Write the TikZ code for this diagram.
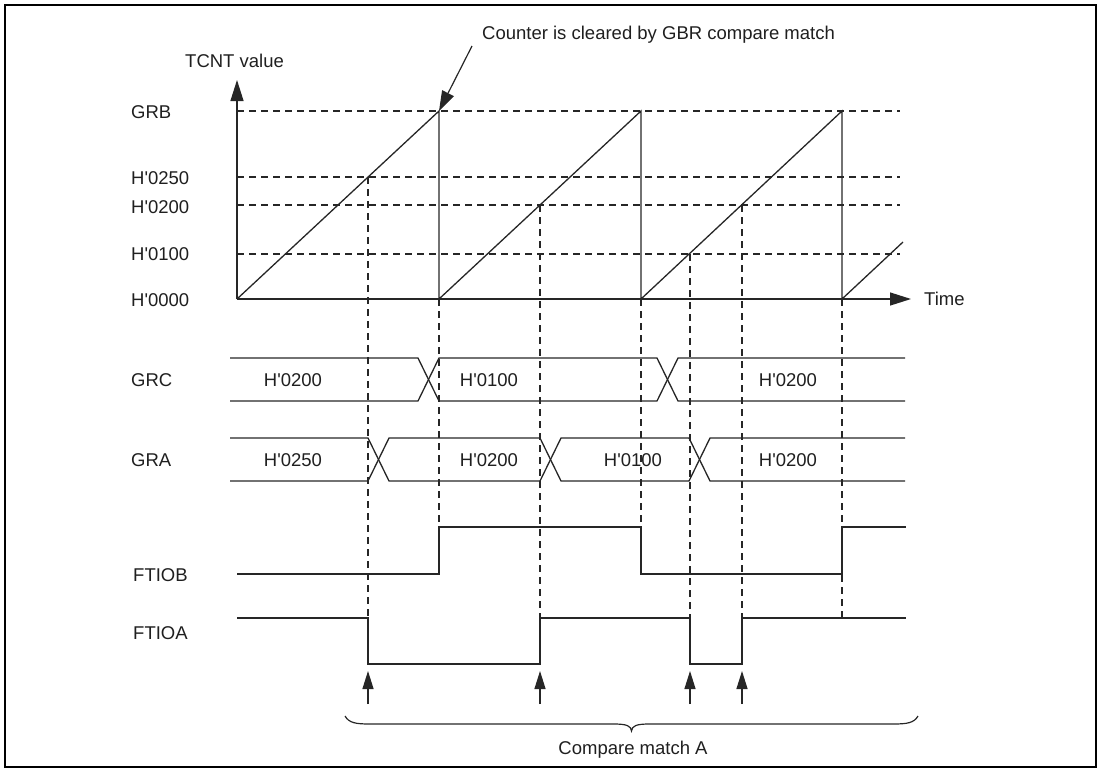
\documentclass[tikz,border=0pt]{standalone}
\usepackage{fontspec}
\setmainfont{Liberation Sans}
\usetikzlibrary{arrows.meta}
\newcommand\hq{\textquotesingle}
\begin{document}
\begin{tikzpicture}[x=1pt,y=-1pt,
  every node/.style={font=\fontsize{18.5}{22}\selectfont, inner sep=0pt, text depth=0pt, text=black!88},
  lbl/.style={anchor=west},
  sig/.style={line width=1.3pt, draw=black!85},
  dline/.style={line width=1.1pt, draw=black!85, dash pattern=on 7pt off 5pt},
  bigarrow/.style={line width=1.3pt, draw=black!85, -{Triangle[length=21pt,width=13pt]}},
  smallarrow/.style={line width=1.3pt, draw=black!85, -{Triangle[length=18pt,width=11pt]}}]
\useasboundingbox (0,0) rectangle (1102,772);
\draw[line width=2.5pt] (5,5) rectangle (1096,767);

% ---- axes
\coordinate (O) at (237,299);
\coordinate (Ytip) at (237,80);
\coordinate (Xtip) at (911,299);
\draw[bigarrow] (O) -- (Ytip);
\draw[bigarrow] (O) -- (Xtip);
\node[lbl] (tcnt) at (185,61) {TCNT value};
\node[lbl] (time) at (924,299) {Time};

% ---- level labels
\node[lbl] (grb) at (131,112) {GRB};
\node[lbl] (l250) at (131,178) {H\hq0250};
\node[lbl] (l200) at (131,207) {H\hq0200};
\node[lbl] (l100) at (131,254) {H\hq0100};
\node[lbl] (l000) at (131,300) {H\hq0000};

% ---- horizontal dashed levels
\draw[dline] (237,111) -- (900,111);
\draw[dline] (237,177) -- (900,177);
\draw[dline] (237,205) -- (900,205);
\draw[dline] (237,254) -- (900,254);

% ---- sawtooth
\draw[sig] (237,299) -- (439,111) -- (439,299)
           (439,299) -- (641,111) -- (641,299)
           (641,299) -- (842,111) -- (842,299)
           (842,299) -- (903,242);

% ---- vertical dashed guides
\draw[dline] (368,177) -- (368,617);
\draw[dline] (439,299) -- (439,527);
\draw[dline] (540,205) -- (540,617);
\draw[dline] (641,299) -- (641,527);
\draw[dline] (690,254) -- (690,617);
\draw[dline] (742,205) -- (742,617);
\draw[dline] (842,299) -- (842,617);

% ---- annotation
\node[lbl] (note) at (482,33) {Counter is cleared by GBR compare match};
\coordinate (noteStart) at (472,46);
\coordinate (clear) at (439,111);
\draw[line width=1.2pt, draw=black!85, -{Triangle[length=20pt,width=13pt]}] (noteStart) -- (clear);

% ---- GRC bus
\node[lbl] (grc) at (131,380) {GRC};
\draw[sig] (230,358) -- (418,358) -- (439,401) -- (657,401) -- (678,358) -- (905,358);
\draw[sig] (230,401) -- (418,401) -- (439,358) -- (657,358) -- (678,401) -- (905,401);
\node (c1) at (293,380) {H\hq0200};
\node (c2) at (489,380) {H\hq0100};
\node (c3) at (788,380) {H\hq0200};

% ---- GRA bus
\node[lbl] (gra) at (131,460) {GRA};
\draw[sig] (230,438) -- (368,438) -- (389,481) -- (540,481) -- (561,438) -- (689,438) -- (710,481) -- (905,481);
\draw[sig] (230,481) -- (368,481) -- (389,438) -- (540,438) -- (561,481) -- (689,481) -- (710,438) -- (905,438);
\node (a1) at (293,460) {H\hq0250};
\node (a2) at (489,460) {H\hq0200};
\node (a3) at (633,460) {H\hq0100};
\node (a4) at (788,460) {H\hq0200};

% ---- FTIOB
\node[lbl] (ftiob) at (133,575) {FTIOB};
\draw[sig] (237,574) -- (439,574) -- (439,527) -- (641,527) -- (641,574) -- (842,574) -- (842,527) -- (906,527);

% ---- FTIOA
\node[lbl] (ftioa) at (133,633) {FTIOA};
\draw[sig] (237,618) -- (368,618) -- (368,664) -- (540,664) -- (540,618) -- (690,618) -- (690,664) -- (742,664) -- (742,618) -- (906,618);

% ---- compare match arrows
\foreach \x/\n in {368/m1,540/m2,690/m3,742/m4}{
  \coordinate (\n b) at (\x,704);
  \coordinate (\n t) at (\x,671);
  \draw[smallarrow] (\n b) -- (\n t);
}

% ---- brace
\draw[line width=1.2pt, draw=black!85] (345,716) .. controls (349,723) and (356,724) .. (370,724) -- (614,724)
  .. controls (627,724) and (631,726) .. (631.5,731)
  .. controls (632,726) and (636,724) .. (649,724) -- (893,724)
  .. controls (907,724) and (914,723) .. (918,716);
\node (cmA) at (633,748) {Compare match A};
\end{tikzpicture}
\end{document}
